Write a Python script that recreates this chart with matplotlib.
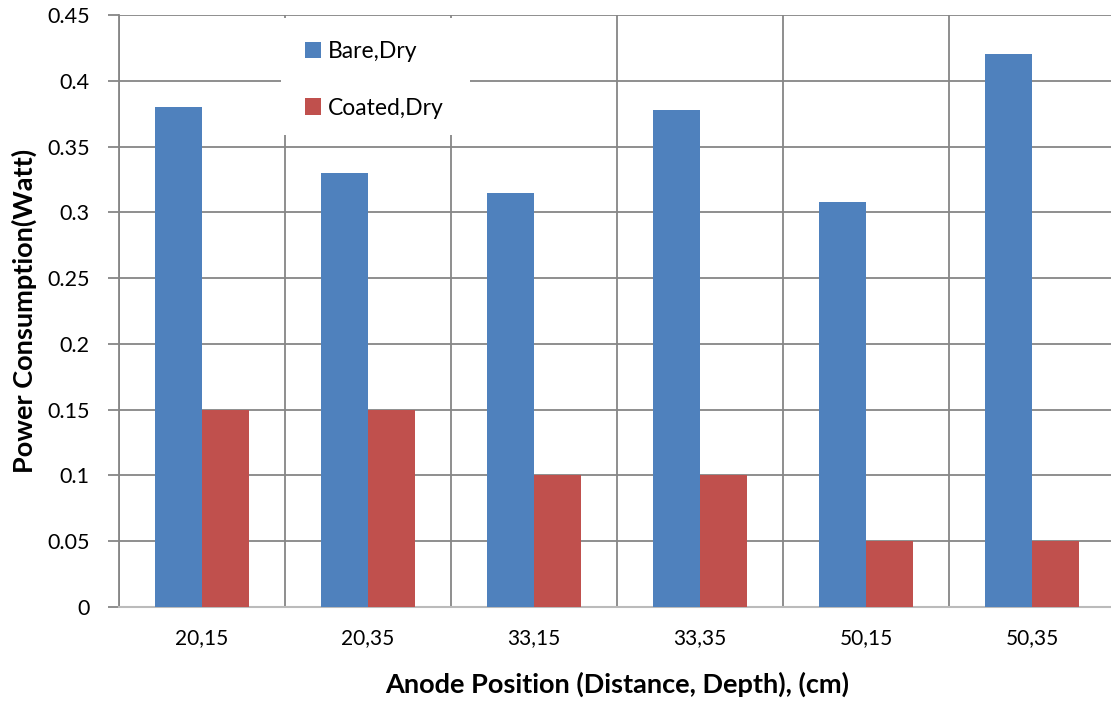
import matplotlib
matplotlib.use("Agg")
import matplotlib.pyplot as plt
from matplotlib.patches import Rectangle
import numpy as np

categories = ["20,15", "20,35", "33,15", "33,35", "50,15", "50,35"]
bare_dry = [0.38, 0.33, 0.315, 0.378, 0.308, 0.42]
coated_dry = [0.15, 0.15, 0.10, 0.10, 0.05, 0.05]
yticks = [0, 0.05, 0.1, 0.15, 0.2, 0.25, 0.3, 0.35, 0.4, 0.45]
ytick_labels = ["0", "0.05", "0.1", "0.15", "0.2", "0.25", "0.3", "0.35", "0.4", "0.45"]

plt.rcParams['font.family'] = ['Lato', 'DejaVu Sans']

W, H = 1111, 705
fig = plt.figure(figsize=(W/100, H/100), dpi=100)
ax = fig.add_axes([119/W, 1 - 607/H, (1115-119)/W, (607-15)/H])

x = np.arange(len(categories))
w = 0.283
blue = "#4F81BD"
red = "#C0504D"
ax.bar(x - w/2, bare_dry, w, color=blue, label="Bare,Dry", zorder=3)
ax.bar(x + w/2, coated_dry, w, color=red, label="Coated,Dry", zorder=3)

ax.set_xlim(-0.5, len(categories) - 0.5)
ax.set_ylim(0, 0.45)
ax.set_yticks(yticks)
ax.set_yticklabels(ytick_labels, fontsize=15.5)
ax.set_xticks(x)
ax.set_xticklabels(categories, fontsize=15)
ax.set_xticks(np.arange(len(categories) + 1) - 0.5, minor=True)

ax.grid(axis='y', which='major', color='#868686', linewidth=1.3, zorder=0)
ax.grid(axis='x', which='minor', color='#868686', linewidth=1.3, zorder=0)
ax.tick_params(axis='x', which='both', length=0, pad=15)
ax.tick_params(axis='y', length=8, width=1.3, color='#868686', pad=13)

for s in ['top', 'right']:
    ax.spines[s].set_visible(False)
ax.spines['left'].set_color('#868686')
ax.spines['left'].set_linewidth(1.3)
ax.spines['bottom'].set_color('#BBBBBB')
ax.spines['bottom'].set_linewidth(1.5)

ax.set_ylabel("Power Consumption(Watt)", fontsize=19.5, fontweight='bold', labelpad=7)
ax.set_xlabel("Anode Position (Distance, Depth), (cm)", fontsize=19.5, fontweight='bold', labelpad=17)

# white legend background box (pixel coords), above gridlines, below bars
ax.add_patch(Rectangle((281/W, 1 - 135/H), (470-281)/W, (135-18)/H,
                       transform=fig.transFigure, facecolor='white',
                       edgecolor='none', zorder=2.5))

leg = ax.legend(loc='upper left', bbox_to_anchor=(305/W, 1 - 41/H),
                bbox_transform=fig.transFigure, frameon=False,
                fontsize=16.5, handlelength=0.7, handleheight=0.7, handletextpad=0.3,
                labelspacing=1.55, borderpad=0, borderaxespad=0)
leg.set_zorder(5)

fig.savefig("out.png", dpi=100)
